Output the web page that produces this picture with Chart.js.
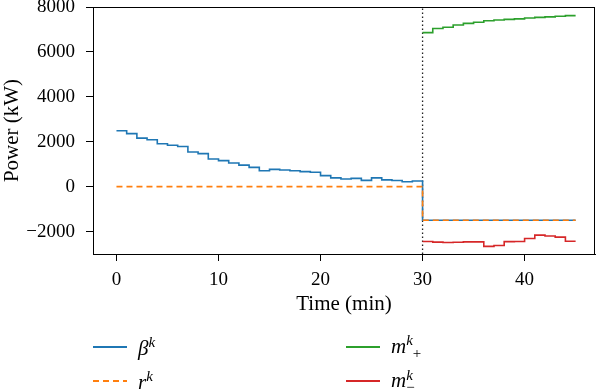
<!DOCTYPE html>
<html>
<head>
<meta charset="utf-8">
<script src="https://cdn.jsdelivr.net/npm/chart.js@4"></script>
<style>
  html, body { margin: 0; padding: 0; background: #fff; }
  #wrap { position: relative; width: 600px; height: 389px; overflow: hidden; }
  #myChart { position: absolute; left: 0; top: 0; }
  .leg { position: absolute; height: 24px; display: flex; align-items: center; font-family: "Liberation Serif", serif; font-size: 21px; color: #000; }
  .sw { display: inline-block; width: 34px; height: 2px; margin-right: 11px; }
  .lab { font-style: italic; line-height: 1; }
  .lab sup { font-size: 15px; vertical-align: 8px; }
  .lab sub { font-size: 15px; vertical-align: -5px; font-style: normal; }
  .ss { display: inline-block; font-size: 15px; line-height: 12px; vertical-align: -5px; }
  .ss span { display: block; }
  .ss .dn { font-style: normal; }
</style>
</head>
<body>
<div id="wrap">
  <canvas id="myChart" width="600" height="389"></canvas>
  <div class="leg" style="left:93px; top:335px;"><span class="sw" style="background:#1f77b4"></span><span class="lab">β<sup>k</sup></span></div>
  <div class="leg" style="left:93px; top:369px;"><span class="sw" style="background:repeating-linear-gradient(90deg,#ff7f0e 0 6px,transparent 6px 10px)"></span><span class="lab">r<sup>k</sup></span></div>
  <div class="leg" style="left:346px; top:335px;"><span class="sw" style="background:#2ca02c"></span><span class="lab">m<sup>k</sup><sub>+</sub></span></div>
  <div class="leg" style="left:346px; top:369px;"><span class="sw" style="background:#d62728"></span><span class="lab">m<span class="ss"><span>k</span><span class="dn">−</span></span></span></div>
</div>
<script>
const timeAll = [0, 1, 2, 3, 4, 5, 6, 7, 8, 9, 10, 11, 12, 13, 14, 15, 16, 17, 18, 19, 20, 21, 22, 23, 24, 25, 26, 27, 28, 29, 30, 31, 32, 33, 34, 35, 36, 37, 38, 39, 40, 41, 42, 43, 44, 45];
const timeLate = [30, 31, 32, 33, 34, 35, 36, 37, 38, 39, 40, 41, 42, 43, 44, 45];

// values hold from each minute until the next one
const betaK = [2490, 2360, 2160, 2090, 1910, 1840, 1790, 1540, 1470, 1230,
  1160, 1050, 960, 860, 710, 770, 740, 710, 670, 640,
  490, 390, 340, 370, 280, 390, 300, 270, 220, 250,
  -1500, -1500, -1500, -1500, -1500, -1500, -1500, -1500, -1500, -1500,
  -1500, -1500, -1500, -1500, -1500, -1500];
const rK = [0, 0, 0, 0, 0, 0, 0, 0, 0, 0, 0, 0, 0, 0, 0, 0, 0, 0, 0, 0,
  0, 0, 0, 0, 0, 0, 0, 0, 0, 0,
  -1500, -1500, -1500, -1500, -1500, -1500, -1500, -1500, -1500, -1500,
  -1500, -1500, -1500, -1500, -1500, -1500];
const mPlus = [6860, 7040, 7100, 7200, 7270, 7320, 7390, 7420, 7450, 7470, 7510, 7540, 7560, 7590, 7615, 7615];
const mMinus = [-2440, -2470, -2490, -2480, -2460, -2460, -2660, -2620, -2450, -2440, -2310, -2160, -2200, -2250, -2430, -2430];

const switchTime = [30, 30];
const switchSpan = [-3000, 8000];

const xTicks = [0, 10, 20, 30, 40];
const yTicks = [-2000, 0, 2000, 4000, 6000, 8000];

const toPoints = (xs, ys) => xs.map((x, i) => ({ x: x, y: ys[i] }));

Chart.defaults.font.family = '"Liberation Serif", serif';
Chart.defaults.color = '#000';

const framePlugin = {
  id: 'frameBox',
  afterDatasetsDraw(chart) {
    const { ctx, chartArea: a } = chart;
    ctx.save();
    ctx.strokeStyle = '#000';
    ctx.lineWidth = 1;
    ctx.strokeRect(Math.round(a.left) + 0.5, Math.round(a.top) + 0.5, Math.round(a.right - a.left) - 1, Math.round(a.bottom - a.top));
    ctx.restore();
  }
};

const lineBase = { pointRadius: 0, borderWidth: 1.6, fill: false, stepped: 'before', tension: 0 };

new Chart(document.getElementById('myChart'), {
  type: 'line',
  data: {
    datasets: [
      { ...lineBase, label: 'rk', data: toPoints(timeAll, rK), borderColor: '#ff7f0e', borderDash: [6, 4], order: 0 },
      { ...lineBase, label: 'betak', data: toPoints(timeAll, betaK), borderColor: '#1f77b4', order: 1 },
      { ...lineBase, label: 'm+', data: toPoints(timeLate, mPlus), borderColor: '#2ca02c', order: 2 },
      { ...lineBase, label: 'm-', data: toPoints(timeLate, mMinus), borderColor: '#d62728', order: 3 },
      { ...lineBase, stepped: false, label: 'switch', data: toPoints(switchTime, switchSpan), borderColor: '#222', borderWidth: 1.3, borderDash: [1.5, 2.5], order: 4 }
    ]
  },
  options: {
    responsive: false,
    animation: false,
    layout: { padding: { top: 7, right: 5, left: 0, bottom: 72 } },
    plugins: { legend: { display: false }, tooltip: { enabled: false } },
    scales: {
      x: {
        type: 'linear',
        min: -2.3,
        max: 46.9,
        afterBuildTicks: axis => { axis.ticks = xTicks.map(v => ({ value: v })); },
        afterFit: scale => { scale.height = 63; scale.paddingLeft = 0; scale.paddingRight = 0; },
        grid: { display: true, drawOnChartArea: false, drawTicks: true, tickLength: 7, tickColor: '#000', lineWidth: 1 },
        border: { display: true, color: '#000', width: 1 },
        ticks: { font: { size: 19 }, padding: 8, maxRotation: 0 },
        title: { display: true, text: 'Time (min)', font: { size: 21 }, padding: { top: 0, bottom: 0 } }
      },
      y: {
        min: -3000,
        max: 8000,
        afterBuildTicks: axis => { axis.ticks = yTicks.map(v => ({ value: v })); },
        afterFit: scale => { scale.width = 93; scale.paddingTop = 0; scale.paddingBottom = 0; },
        grid: { display: true, drawOnChartArea: false, drawTicks: true, tickLength: 7, tickColor: '#000', lineWidth: 1 },
        border: { display: true, color: '#000', width: 1 },
        ticks: { font: { size: 19 }, padding: 11, callback: v => v < 0 ? '\u2212' + Math.abs(v) : String(v) },
        title: { display: true, text: 'Power (kW)', font: { size: 21 }, padding: { top: 0, bottom: 0 } }
      }
    }
  },
  plugins: [framePlugin]
});
</script>
</body>
</html>
